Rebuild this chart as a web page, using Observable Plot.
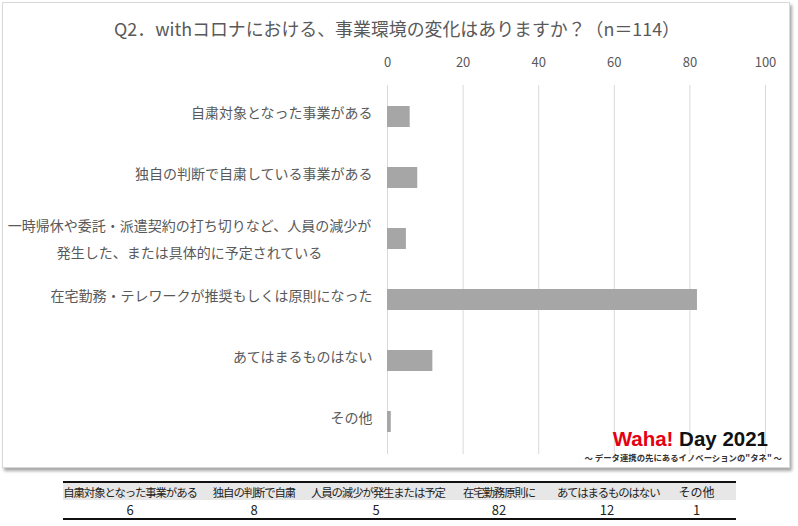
<!DOCTYPE html>
<html>
<head>
<meta charset="utf-8">
<script src="https://cdn.jsdelivr.net/npm/d3@7"></script>
<script src="https://cdn.jsdelivr.net/npm/@observablehq/plot@0.6"></script>
<style>
  html, body { margin: 0; padding: 0; background: #fff; }
  body { width: 798px; height: 526px; position: relative; overflow: hidden; font-family: "Noto Sans CJK JP", "Noto Sans", sans-serif; }
  #panel { position: absolute; left: 2px; top: 2px; width: 786px; height: 464px; border: 1px solid #d9d9d9; box-shadow: 2px 3px 3px rgba(0,0,0,0.35); background: #fff; }
  #chart { position: absolute; left: 0; top: 0; }
  #title { position: absolute; left: 6px; width: 782px; top: 15px; text-align: center; font-size: 17.9px; color: #595959; white-space: nowrap; }
  #logo { position: absolute; right: 30px; top: 428px; font-family: "Liberation Sans", Arial, sans-serif; font-weight: bold; font-size: 20.5px; line-height: 22px; color: #111; white-space: nowrap; }
  #logo .red { color: #e50012; }
  #tag { position: absolute; right: 16px; top: 451px; font-size: 8.4px; font-weight: 700; color: #333; white-space: nowrap; }
  #tbl { position: absolute; left: 63px; top: 481px; width: 673px; table-layout: fixed; border-collapse: collapse; border-top: 2.5px solid #111; border-bottom: 2.5px solid #111; }
  #tbl td { padding: 0; text-align: center; white-space: nowrap; color: #222; overflow: visible; }
  #tbl tr.h td { background: #e7e7e7; height: 17px; font-size: 11.4px; letter-spacing: -1.1px; line-height: 16px; }
  #tbl tr.h td.big { font-size: 12px; letter-spacing: 0; }
  #tbl tr.v td { height: 18px; font-size: 13px; line-height: 17px; }
</style>
</head>
<body>
<div id="panel"></div>
<div id="chart"></div>
<div id="title"></div>
<div id="logo"><span class="red">Waha!</span> Day 2021</div>
<div id="tag">～ データ連携の先にあるイノベーションの"タネ" ～</div>
<table id="tbl"></table>
<script>
const titleText = "Q2．withコロナにおける、事業環境の変化はありますか？（n＝114）";
const categories = [
  "自粛対象となった事業がある",
  "独自の判断で自粛している事業がある",
  "一時帰休や委託・派遣契約の打ち切りなど、人員の減少が\n発生した、または具体的に予定されている",
  "在宅勤務・テレワークが推奨もしくは原則になった",
  "あてはまるものはない",
  "その他"
];
const values = [6, 8, 5, 82, 12, 1];
const xTicks = [0, 20, 40, 60, 80, 100];
const tableLabels = ["自粛対象となった事業がある", "独自の判断で自粛", "人員の減少が発生または予定", "在宅勤務原則に", "あてはまるものはない", "その他"];
const colWidths = [134, 114, 130, 116, 100, 79];

document.getElementById("title").textContent = titleText;

const data = categories.map((c, i) => ({category: c, value: values[i]}));
const multi = categories.filter(c => c.includes("\n"));

const chart = Plot.plot({
  width: 798,
  height: 470,
  marginLeft: 387,
  marginRight: 33,
  marginTop: 85,
  marginBottom: 16,
  style: {fontFamily: "'Noto Sans CJK JP', 'Noto Sans', sans-serif", background: "transparent"},
  x: {domain: [0, 100], ticks: xTicks},
  y: {domain: categories, paddingInner: 0.65, paddingOuter: 0.325},
  marks: [
    Plot.ruleX(xTicks, {stroke: "#d9d9d9", strokeWidth: 1}),
    Plot.barX(data, {x: "value", y: "category", fill: "#a6a6a6"}),
    Plot.axisX({anchor: "top", ticks: xTicks, tickSize: 0, tickPadding: 19, fontSize: 13, fill: "#595959", label: null}),
    Plot.axisY({tickSize: 0, tickPadding: 15, dy: -3, fontSize: 14, fill: "#595959", label: null,
      tickFormat: d => d.includes("\n") ? "" : d}),
    Plot.text(multi, {x: 0, y: d => d, text: d => d, textAnchor: "middle", dx: -198, dy: -3, lineHeight: 1.93, fontSize: 14, fill: "#595959"})
  ]
});
document.getElementById("chart").appendChild(chart);

const tbl = document.getElementById("tbl");
const hr = document.createElement("tr"); hr.className = "h";
const vr = document.createElement("tr"); vr.className = "v";
tableLabels.forEach((l, i) => {
  const td = document.createElement("td");
  td.textContent = l;
  td.style.width = colWidths[i] + "px";
  if (l.length <= 3) td.className = "big";
  hr.appendChild(td);
  const tv = document.createElement("td");
  tv.textContent = values[i];
  vr.appendChild(tv);
});
tbl.appendChild(hr);
tbl.appendChild(vr);
</script>
</body>
</html>
